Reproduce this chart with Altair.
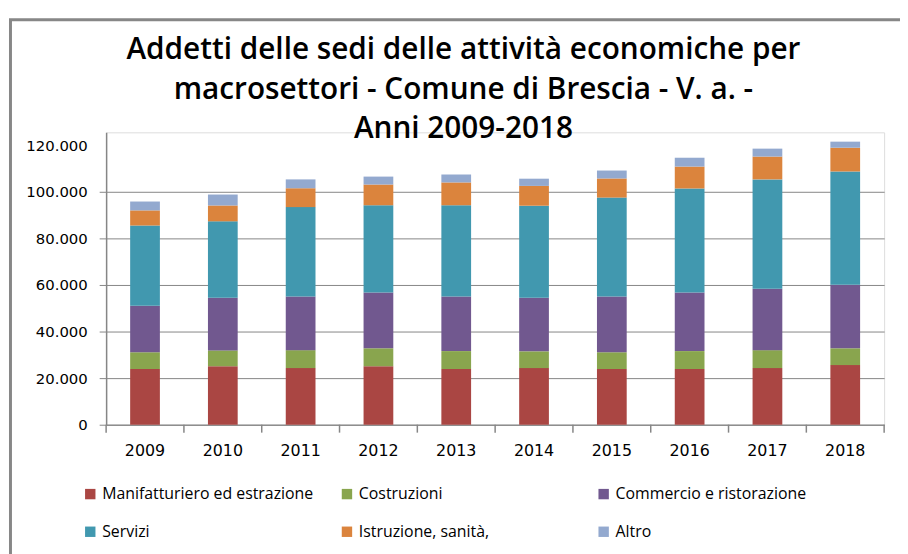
import altair as alt
import pandas as pd

# ---- data ----
years = ["2009", "2010", "2011", "2012", "2013", "2014", "2015", "2016", "2017", "2018"]
series_names = [
    "Manifatturiero ed estrazione",
    "Costruzioni",
    "Commercio e ristorazione",
    "Servizi",
    "Istruzione, sanità,",
    "Altro",
]
manifatturiero = [23900, 25100, 24300, 25100, 23900, 24300, 23900, 23900, 24300, 25600]
costruzioni = [7200, 6800, 7700, 7700, 7700, 7200, 7200, 7700, 7700, 7200]
commercio = [20000, 22600, 23000, 23900, 23400, 23000, 23900, 25100, 26400, 27300]
servizi = [34400, 32800, 38400, 37500, 39200, 39500, 42500, 44700, 46900, 48600]
istruzione = [6500, 6800, 8100, 8900, 9800, 8500, 8200, 9400, 9800, 10200]
altro = [3800, 4700, 3800, 3400, 3400, 3100, 3400, 3800, 3400, 2600]
colors = ["#AA4643", "#89A54E", "#71588F", "#4198AF", "#DB843D", "#93A9CF"]
y_ticks = [0, 20000, 40000, 60000, 80000, 100000, 120000]
title_lines = [
    "Addetti delle sedi delle attività economiche per",
    "macrosettori  - Comune di Brescia - V. a. -",
    "Anni 2009-2018",
]

all_series = [manifatturiero, costruzioni, commercio, servizi, istruzione, altro]
rows = []
for si, (name, vals) in enumerate(zip(series_names, all_series)):
    for y, v in zip(years, vals):
        rows.append({"year": y, "series": name, "idx": si, "value": v})
df = pd.DataFrame(rows)

W, H = 785, 295
GRAY = "#868686"

bars = alt.Chart(df).mark_bar(size=30).encode(
    x=alt.X(
        "year:N",
        sort=years,
        scale=alt.Scale(paddingInner=0, paddingOuter=0),
        axis=alt.Axis(
            title=None,
            ticks=False,
            tickSize=0,
            grid=False,
            labelAngle=0,
            labelFont="DejaVu Sans",
            labelFontSize=16,
            labelColor="#000000",
            labelPadding=18,
            domainColor=GRAY,
            domainWidth=1,
        ),
    ),
    y=alt.Y(
        "value:Q",
        stack="zero",
        scale=alt.Scale(domain=[0, 125500], nice=False, zero=True),
        axis=alt.Axis(
            title=None,
            values=y_ticks,
            labelExpr="replace(format(datum.value, ','), ',', '.')",
            labelFont="DejaVu Sans",
            labelFontSize=15,
            labelColor="#000000",
            labelPadding=12,
            tickSize=7,
            tickColor={"condition": {"test": "datum.value >= 120000", "value": "transparent"}, "value": GRAY},
            grid=True,
            gridColor={"condition": {"test": "datum.value >= 120000", "value": "transparent"}, "value": GRAY},
            gridWidth=1,
            domainColor=GRAY,
            domainWidth=1.5,
        ),
    ),
    color=alt.Color(
        "series:N",
        scale=alt.Scale(domain=series_names, range=colors),
        legend=alt.Legend(
            title=None,
            orient="none",
            legendX=-24,
            legendY=357,
            direction="horizontal",
            columns=3,
            gridAlign="all",
            columnPadding=25,
            rowPadding=22,
            symbolType="square",
            symbolSize=110,
            symbolStrokeWidth=0,
            symbolOpacity=1,
            labelFont="Open Sans",
            labelFontSize=16,
            labelColor="#000000",
            labelOffset=4,
            labelLimit=400,
            padding=0,
        ),
    ),
    order=alt.Order("idx:Q", sort="ascending"),
)

years_df = pd.DataFrame({"year": years})
ticks = alt.Chart(years_df).mark_rule(color=GRAY, strokeWidth=1.5).encode(
    x=alt.X("year:N", sort=years, bandPosition=0),
    y=alt.value(H),
    y2=alt.value(H + 8),
)
end_tick = alt.Chart(pd.DataFrame({"year": [years[-1]]})).mark_rule(color=GRAY, strokeWidth=1.5).encode(
    x=alt.X("year:N", sort=years, bandPosition=1),
    y=alt.value(H),
    y2=alt.value(H + 8),
)

frame = alt.Chart(pd.DataFrame({"a": [0]})).mark_rect(
    fill="transparent", stroke="#878787", strokeWidth=3
).encode(
    x=alt.value(-96.5),
    y=alt.value(-113.5),
    x2=alt.value(840),
    y2=alt.value(460),
)

chart = alt.layer(frame, bars, ticks, end_tick).properties(
    width=W,
    height=H,
    autosize=alt.AutoSizeParams(type="none"),
    padding={"left": 99, "top": 123, "right": 16, "bottom": 128},
    title=alt.Title(
        text=title_lines,
        font="Open Sans",
        fontSize=30,
        fontWeight=600,
        color="#000000",
        anchor="middle",
        dx=-32,
        lineHeight=40,
        offset=-127,
    ),
).configure_view(stroke=None).configure(background="white")

chart.save("out.html", embed_options={"renderer": "svg", "actions": False})
